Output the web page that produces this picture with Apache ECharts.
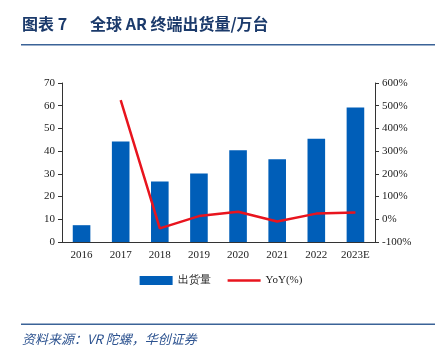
<!DOCTYPE html>
<html><head><meta charset="utf-8">
<script src="https://cdn.jsdelivr.net/npm/echarts@6/dist/echarts.min.js"></script>
<style>html,body{margin:0;padding:0;background:#fff}#c{width:442px;height:347px}</style>
</head><body><div id="c"></div>
<script>
const categories = ['2016','2017','2018','2019','2020','2021','2022','2023E'];
const shipments = [7.4, 44.2, 26.6, 30.2, 40.4, 36.4, 45.5, 59.2];
const yoy = [null, 525, -40, 14, 33, -10, 25, 30];
const leftTicks = [0, 70, 10];
const rightTicks = [-100, 600, 100];

const serif = '"Liberation Serif","Times New Roman",serif';
const chart = echarts.init(document.getElementById('c'));
chart.setOption({
  animation: false,
  grid: {left: 62, right: 67, top: 83, bottom: 105},
  graphic: [
    {type:'text', left: 22, top: 16, style:{text:'图表 7', font:'bold 16px "Noto Sans CJK SC", serif', fill:'#1b3a6b'}},
    {type:'text', left: 90, top: 16, style:{text:'全球 AR 终端出货量/万台', font:'bold 16px "Noto Sans CJK SC", serif', fill:'#1b3a6b'}},
    {type:'rect', shape:{x:21, y:44, width:414, height:1.5}, style:{fill:'#3b6397'}},
    {type:'rect', shape:{x:21, y:323.5, width:414, height:1.5}, style:{fill:'#3b6397'}},
    {type:'text', left: 22, top: 333, style:{text:'资料来源：VR 陀螺，华创证券', font:'italic 13px "Noto Sans CJK SC", serif', fill:'#2d5390'}}
  ],
  legend: {
    bottom: 56, left: 'center', itemGap: 17, itemWidth: 33, itemHeight: 9,
    textStyle: {fontFamily: serif, fontSize: 11, color: '#222'},
    data: [{name:'出货量', icon:'rect'}, {name:'YoY(%)', icon:'path://M0,0 L33,0 L33,2.5 L0,2.5 Z'}]
  },
  xAxis: {
    type: 'category', data: categories,
    axisLine: {lineStyle: {color: '#333'}},
    axisTick: {length: 4, lineStyle: {color:'#333'}},
    axisLabel: {fontFamily: serif, fontSize: 11, color: '#222', margin: 8}
  },
  yAxis: [
    {type:'value', min: leftTicks[0], max: leftTicks[1], interval: leftTicks[2],
     splitLine:{show:false},
     axisLine:{show:true, lineStyle:{color:'#333'}},
     axisTick:{show:true, length:4, lineStyle:{color:'#333'}},
     axisLabel:{fontFamily: serif, fontSize: 11, color:'#222', margin: 7}},
    {type:'value', min: rightTicks[0], max: rightTicks[1], interval: rightTicks[2],
     splitLine:{show:false},
     axisLine:{show:true, lineStyle:{color:'#333'}},
     axisTick:{show:true, length:4, lineStyle:{color:'#333'}},
     axisLabel:{fontFamily: serif, fontSize: 11, color:'#222', margin: 7, formatter: v => v + '%'}}
  ],
  series: [
    {name:'出货量', type:'bar', data: shipments, barWidth: '45%', itemStyle:{color:'#005eb8'}},
    {name:'YoY(%)', type:'line', yAxisIndex: 1, data: yoy, symbol:'none', lineStyle:{color:'#e8141e', width: 2.5}, itemStyle:{color:'#e8141e'}}
  ]
});
</script></body></html>
